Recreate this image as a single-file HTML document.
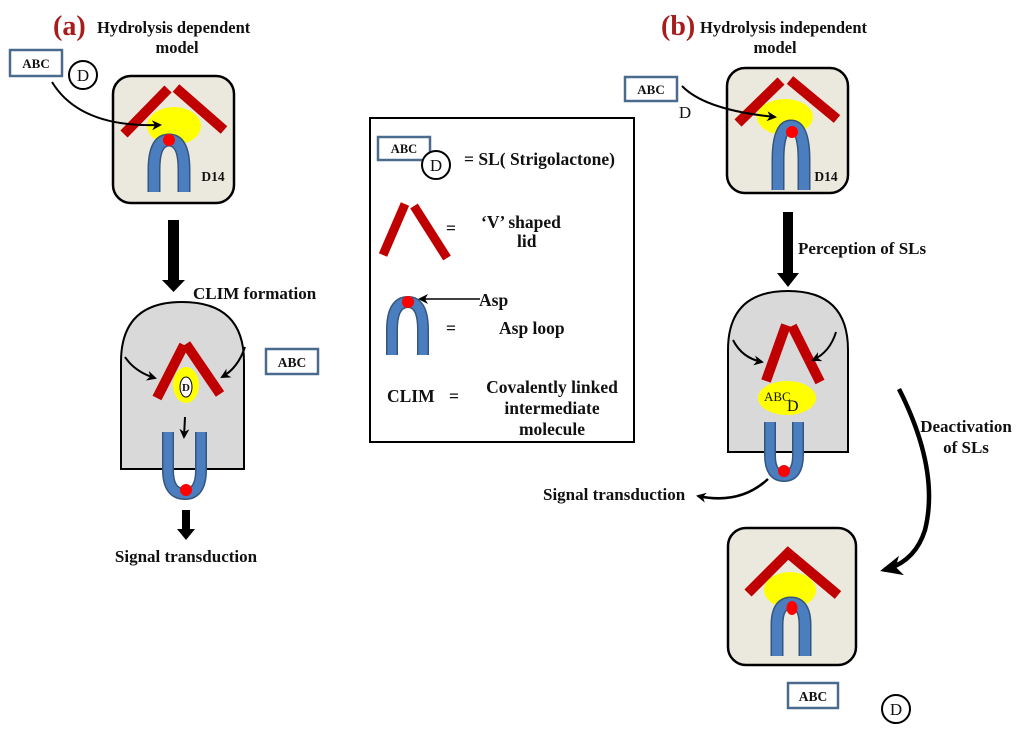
<!DOCTYPE html>
<html><head><meta charset="utf-8"><style>
html,body{margin:0;padding:0;background:#fff;}
svg{display:block;}
text{font-family:"Liberation Serif",serif;font-weight:bold;fill:#111;}
</style></head><body>
<svg width="1024" height="734" viewBox="0 0 1024 734" xmlns="http://www.w3.org/2000/svg">
<defs>
<marker id="ah" markerWidth="10" markerHeight="10" refX="8" refY="5" orient="auto" markerUnits="userSpaceOnUse">
<path d="M0,0 L10,5 L0,10 L3,5 Z" fill="#000"/></marker>
<marker id="ahb" markerWidth="22" markerHeight="20" refX="18" refY="10" orient="auto" markerUnits="userSpaceOnUse">
<path d="M0,0 L22,10 L0,20 L6,10 Z" fill="#000"/></marker>
</defs>

<!-- (a) header -->
<text x="53" y="35" style="font-size:28px;fill:#a51d1d">(a)</text>
<text x="97" y="33" style="font-size:16.5px">Hydrolysis dependent</text>
<text x="177" y="53" text-anchor="middle" style="font-size:16.5px">model</text>

<rect x="10" y="50" width="52" height="26" fill="#fff" stroke="#4a6a8e" stroke-width="2.5"/>
<text x="36" y="68" text-anchor="middle" style="font-size:13px">ABC</text>
<circle cx="83" cy="75" r="14" fill="#fff" stroke="#000" stroke-width="2"/>
<text x="83" y="81" text-anchor="middle" style="font-size:17px;font-weight:normal">D</text>

<!-- D14 box a -->
<rect x="113" y="76" width="121" height="127" rx="18" fill="#ebe8de" stroke="#000" stroke-width="2.5"/>
<ellipse cx="174" cy="126" rx="27" ry="19" fill="#ffff00"/>
<line x1="124" y1="134" x2="168" y2="89" stroke="#c00000" stroke-width="10"/>
<line x1="176" y1="88" x2="224" y2="130" stroke="#c00000" stroke-width="10"/>
<path d="M154,192 L154,170 Q154,140 169,140 Q184,140 184,170 L184,192" fill="none" stroke="#34567e" stroke-width="13"/>
<path d="M154,192 L154,170 Q154,140 169,140 Q184,140 184,170 L184,192" fill="none" stroke="#4a7ebf" stroke-width="10"/>
<circle cx="169" cy="140" r="6" fill="#ff0000"/>
<text x="213" y="181" text-anchor="middle" style="font-size:13.5px">D14</text>
<path d="M52,82 Q80,128 160,125" fill="none" stroke="#000" stroke-width="2" marker-end="url(#ah)"/>

<!-- big arrow a -->
<rect x="168" y="220" width="11" height="61" fill="#000"/>
<path d="M162,280 L185,280 L173.5,292 Z" fill="#000"/>
<text x="193" y="299" style="font-size:17px">CLIM formation</text>

<!-- CLIM shape a -->
<path d="M121,469 L121,362 Q121,302 182,302 Q244,302 244,362 L244,469 Z" fill="#d9d9d9" stroke="#000" stroke-width="2"/>
<ellipse cx="186" cy="385" rx="13" ry="18" fill="#ffff00"/>
<ellipse cx="186" cy="387" rx="6" ry="10" fill="#fff" stroke="#000" stroke-width="1"/>
<text x="186" y="391" text-anchor="middle" style="font-size:11px">D</text>
<line x1="157" y1="398" x2="184" y2="345" stroke="#c00000" stroke-width="10"/>
<line x1="186" y1="344" x2="220" y2="394" stroke="#c00000" stroke-width="10"/>
<path d="M125,357 Q135,372 155,378" fill="none" stroke="#000" stroke-width="2" marker-end="url(#ah)"/>
<path d="M245,347 Q238,368 222,377" fill="none" stroke="#000" stroke-width="2" marker-end="url(#ah)"/>
<path d="M185,417 L184,437" fill="none" stroke="#000" stroke-width="2" marker-end="url(#ah)"/>
<path d="M168,432 L168,470 Q168,494 185,494 Q201,494 201,470 L201,432" fill="none" stroke="#34567e" stroke-width="12"/>
<path d="M168,432 L168,470 Q168,494 185,494 Q201,494 201,470 L201,432" fill="none" stroke="#4a7ebf" stroke-width="9"/>
<circle cx="186" cy="490" r="6" fill="#ff0000"/>
<rect x="266" y="349" width="52" height="25" fill="#fff" stroke="#4a6a8e" stroke-width="2.5"/>
<text x="292" y="367" text-anchor="middle" style="font-size:13.5px">ABC</text>
<rect x="182" y="510" width="8" height="20" fill="#000"/>
<path d="M177,529 L195,529 L186,540 Z" fill="#000"/>
<text x="186" y="562" text-anchor="middle" style="font-size:17px">Signal transduction</text>

<!-- legend -->
<rect x="370" y="118" width="264" height="324" fill="#fff" stroke="#000" stroke-width="2"/>
<rect x="378" y="137" width="52" height="23" fill="#fff" stroke="#4a6a8e" stroke-width="2.5"/>
<text x="404" y="153" text-anchor="middle" style="font-size:12.5px">ABC</text>
<circle cx="436" cy="165" r="14" fill="#fff" stroke="#000" stroke-width="2"/>
<text x="436" y="171" text-anchor="middle" style="font-size:17px;font-weight:normal">D</text>
<text x="464" y="165" style="font-size:17.5px">= SL( Strigolactone)</text>
<line x1="383" y1="255" x2="405" y2="204" stroke="#c00000" stroke-width="9"/>
<line x1="414" y1="206" x2="447" y2="258" stroke="#c00000" stroke-width="9"/>
<text x="446" y="234" style="font-size:17.5px">=</text>
<text x="481" y="228" style="font-size:17.5px">‘V’ shaped</text>
<text x="517" y="247" style="font-size:17.5px">lid</text>
<path d="M392,355 L392,330 Q392,302 408,302 Q423,302 423,330 L423,355" fill="none" stroke="#34567e" stroke-width="12"/>
<path d="M392,355 L392,330 Q392,302 408,302 Q423,302 423,330 L423,355" fill="none" stroke="#4a7ebf" stroke-width="9"/>
<circle cx="408" cy="302" r="6" fill="#ff0000"/>
<line x1="480" y1="299" x2="420" y2="299" stroke="#000" stroke-width="1.5" marker-end="url(#ah)"/>
<text x="479" y="306" style="font-size:17.5px">Asp</text>
<text x="446" y="334" style="font-size:17.5px">=</text>
<text x="499" y="334" style="font-size:17.5px">Asp loop</text>
<text x="387" y="402" style="font-size:17.5px">CLIM</text>
<text x="449" y="402" style="font-size:17.5px">=</text>
<text x="552" y="393" text-anchor="middle" style="font-size:17.5px">Covalently linked</text>
<text x="552" y="414" text-anchor="middle" style="font-size:17.5px">intermediate</text>
<text x="552" y="435" text-anchor="middle" style="font-size:17.5px">molecule</text>

<!-- (b) header -->
<text x="661" y="35" style="font-size:28px;fill:#a51d1d">(b)</text>
<text x="700" y="33" style="font-size:16.5px">Hydrolysis independent</text>
<text x="775" y="53" text-anchor="middle" style="font-size:16.5px">model</text>

<rect x="625" y="77" width="52" height="24" fill="#fff" stroke="#4a6a8e" stroke-width="2.5"/>
<text x="651" y="94" text-anchor="middle" style="font-size:13px">ABC</text>
<text x="685" y="118" text-anchor="middle" style="font-size:17px;font-weight:normal">D</text>

<rect x="727" y="68" width="121" height="125" rx="18" fill="#ebe8de" stroke="#000" stroke-width="2.5"/>
<ellipse cx="785" cy="117" rx="28" ry="18" fill="#ffff00"/>
<line x1="738" y1="123" x2="781" y2="81" stroke="#c00000" stroke-width="10"/>
<line x1="790" y1="80" x2="837" y2="119" stroke="#c00000" stroke-width="10"/>
<path d="M778,190 L778,160 Q778,126 791,126 Q804,126 804,160 L804,190" fill="none" stroke="#34567e" stroke-width="13"/>
<path d="M778,190 L778,160 Q778,126 791,126 Q804,126 804,160 L804,190" fill="none" stroke="#4a7ebf" stroke-width="10"/>
<circle cx="792" cy="132" r="6" fill="#ff0000"/>
<text x="826" y="181" text-anchor="middle" style="font-size:13.5px">D14</text>
<path d="M682,86 Q705,110 775,117" fill="none" stroke="#000" stroke-width="2" marker-end="url(#ah)"/>

<rect x="783" y="212" width="10" height="62" fill="#000"/>
<path d="M777,273 L799,273 L788,287 Z" fill="#000"/>
<text x="798" y="254" style="font-size:17px">Perception of SLs</text>

<path d="M728,452 L728,350 Q728,291 788,291 Q848,291 848,350 L848,452 Z" fill="#d9d9d9" stroke="#000" stroke-width="2"/>
<line x1="766" y1="381" x2="786" y2="325" stroke="#c00000" stroke-width="10"/>
<line x1="792" y1="326" x2="820" y2="382" stroke="#c00000" stroke-width="10"/>
<path d="M733,340 Q742,358 762,362" fill="none" stroke="#000" stroke-width="2" marker-end="url(#ah)"/>
<path d="M836,332 Q830,352 813,360" fill="none" stroke="#000" stroke-width="2" marker-end="url(#ah)"/>
<ellipse cx="787" cy="398" rx="29" ry="17" fill="#ffff00"/>
<text x="764" y="401" style="font-size:13px;font-weight:normal">ABC</text>
<text x="787" y="411" style="font-size:16px;font-weight:normal">D</text>
<path d="M770,422 L770,455 Q770,476 784,476 Q798,476 798,455 L798,422" fill="none" stroke="#34567e" stroke-width="12"/>
<path d="M770,422 L770,455 Q770,476 784,476 Q798,476 798,455 L798,422" fill="none" stroke="#4a7ebf" stroke-width="9"/>
<circle cx="784" cy="471" r="6" fill="#ff0000"/>
<path d="M768,479 Q740,505 698,496" fill="none" stroke="#000" stroke-width="2.5" marker-end="url(#ah)"/>
<text x="543" y="500" style="font-size:17px">Signal transduction</text>

<path d="M899,389 Q940,470 925,530 Q915,562 884,570" fill="none" stroke="#000" stroke-width="4.5" marker-end="url(#ahb)"/>
<text x="966" y="432" text-anchor="middle" style="font-size:17px">Deactivation</text>
<text x="966" y="453" text-anchor="middle" style="font-size:17px">of SLs</text>

<rect x="728" y="528" width="128" height="137" rx="18" fill="#ebe8de" stroke="#000" stroke-width="2.5"/>
<ellipse cx="790" cy="590" rx="26" ry="18" fill="#ffff00"/>
<path d="M748,593 L788,553 L838,595" fill="none" stroke="#c00000" stroke-width="10"/>
<path d="M777,656 L777,625 Q777,603 791,603 Q805,603 805,625 L805,656" fill="none" stroke="#34567e" stroke-width="13"/>
<path d="M777,656 L777,625 Q777,603 791,603 Q805,603 805,625 L805,656" fill="none" stroke="#4a7ebf" stroke-width="10"/>
<ellipse cx="792" cy="608" rx="5.5" ry="7" fill="#ff0000"/>
<rect x="788" y="683" width="50" height="25" fill="#fff" stroke="#4a6a8e" stroke-width="2.5"/>
<text x="813" y="701" text-anchor="middle" style="font-size:13.5px">ABC</text>
<circle cx="896" cy="709" r="14" fill="#fff" stroke="#000" stroke-width="2"/>
<text x="896" y="715" text-anchor="middle" style="font-size:17px;font-weight:normal">D</text>
</svg>
</body></html>
